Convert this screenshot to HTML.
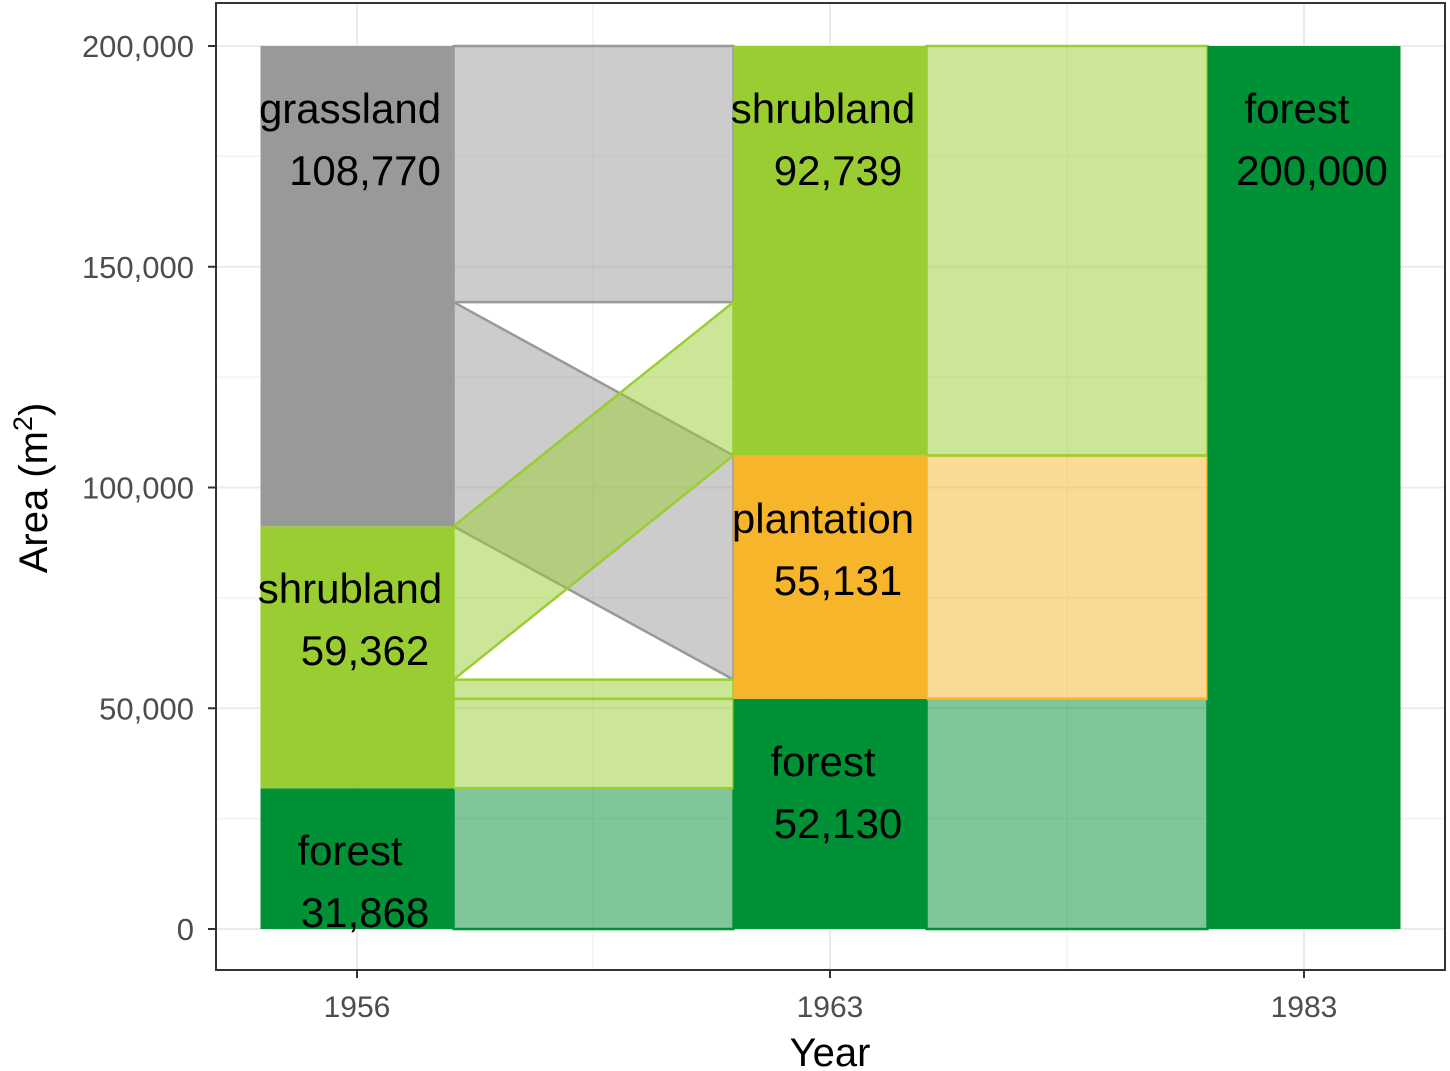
<!DOCTYPE html>
<html><head><meta charset="utf-8"><style>
html,body{margin:0;padding:0;background:#fff;}
svg{display:block;font-family:"Liberation Sans",Arial,sans-serif;}
</style></head><body>
<svg id="chart" width="1450" height="1071" viewBox="0 0 1450 1071"></svg>
<script>
const years = ['1956','1963','1983'];
const yTicks = [0,50000,100000,150000,200000];
const yTickLabels = ['0','50,000','100,000','150,000','200,000'];
// strata per year, bottom to top
const strata1956 = [['forest',31868],['shrubland',59362],['grassland',108770]];
const strata1963 = [['forest',52130],['plantation',55131],['shrubland',92739]];
const strata1983 = [['forest',200000]];
// flows 1956->1963 : [from, to, value], stacked in order
const flowFrom = ['forest','shrubland','shrubland','shrubland','grassland','grassland'];
const flowTo = ['forest','forest','plantation','shrubland','plantation','shrubland'];
const flowVal = [31868,20262,4361,34739,50770,58000];
const labelBase = [[865,603,123],[776,533,123],[123]];

const colors={forest:'#009036',shrubland:'#9acd32',grassland:'#999999',plantation:'#f7b52c'};
const svg=document.getElementById('chart');
const NS='http://www.w3.org/2000/svg';
function mk(t,a,p){const e=document.createElementNS(NS,t);for(const k in a)e.setAttribute(k,a[k]);(p||svg).appendChild(e);return e;}
const L=216,R=1445,T=3,B=970;
const y=v=>929-v*883/200000;
const xc=[357,830,1304], bw=193;

const frame=mk('rect',{x:L,y:T,width:R-L,height:B-T,fill:'#fff',stroke:'none'});

[25000,75000,125000,175000].forEach(v=>{const g=mk('line',{x1:L,x2:R,y1:y(v),y2:y(v),stroke:'#f2f2f2','stroke-width':1.5});});
[593,1067].forEach(xx=>{const g=mk('line',{x1:xx,x2:xx,y1:T,y2:B,stroke:'#f2f2f2','stroke-width':1.5});});
yTicks.forEach(v=>{const g=mk('line',{x1:L,x2:R,y1:y(v),y2:y(v),stroke:'#ebebeb','stroke-width':2});});
xc.forEach(xx=>{const g=mk('line',{x1:xx,x2:xx,y1:T,y2:B,stroke:'#ebebeb','stroke-width':2});});

function cum(strata){let c=0;const m={};strata.forEach(s=>{m[s[0]]=[c,c+s[1]];c+=s[1];});return m;}
const c56=cum(strata1956),c63=cum(strata1963);
const offFrom={},offTo={};
for(const k in c56)offFrom[k]=c56[k][0];
for(const k in c63)offTo[k]=c63[k][0];
const x1=xc[0]+bw/2,x2=xc[1]-bw/2;
const polys=[];
flowVal.forEach((v,i)=>{
  const f=flowFrom[i],t=flowTo[i];
  const a0=offFrom[f],a1=a0+v,b0=offTo[t],b1=b0+v;
  offFrom[f]=a1;offTo[t]=b1;
  polys.push({f,t,pts:`${x1},${y(a0)} ${x2},${y(b0)} ${x2},${y(b1)} ${x1},${y(a1)}`});
});
// draw grassland flows first so shrubland flows lie on top
polys.sort((a,b)=>(a.f==='grassland'?0:1)-(b.f==='grassland'?0:1)).forEach(o=>{
  const p=mk('polygon',{points:o.pts,fill:colors[o.f],'fill-opacity':0.5,stroke:colors[o.f],'stroke-width':2.5});
  
});
const x3=xc[1]+bw/2,x4=xc[2]-bw/2;
strata1963.forEach(s=>{const [a0,a1]=c63[s[0]];
  const p=mk('polygon',{points:`${x3},${y(a0)} ${x4},${y(a0)} ${x4},${y(a1)} ${x3},${y(a1)}`,fill:colors[s[0]],'fill-opacity':0.5,stroke:colors[s[0]],'stroke-width':2.5});
  
});
[strata1956,strata1963,strata1983].forEach((st,j)=>{
  let c=0;
  st.forEach((s,i)=>{
    const r=mk('rect',{x:xc[j]-bw/2,y:y(c+s[1]),width:bw,height:y(c)-y(c+s[1]),fill:colors[s[0]]});
    
    c+=s[1];
    const tb=labelBase[j][i];
    const t1=mk('text',{x:xc[j]-7,y:tb,'font-size':42,'text-anchor':'middle',fill:'#000'});t1.textContent=s[0];
    
    const t2=mk('text',{x:xc[j]+8,y:tb+62,'font-size':42,'text-anchor':'middle',fill:'#000'});t2.textContent=s[1].toLocaleString('en-US');
    
  });
});
const bd=mk('rect',{x:L,y:T,width:R-L,height:B-T,fill:'none',stroke:'#333','stroke-width':2});

yTicks.forEach((v,i)=>{
  const tk=mk('line',{x1:L-8,x2:L,y1:y(v),y2:y(v),stroke:'#333','stroke-width':2});
  const t=mk('text',{x:L-22,y:y(v)+11,'font-size':31,'text-anchor':'end',fill:'#4d4d4d'});t.textContent=yTickLabels[i];
  
});
years.forEach((yr,i)=>{
  const tk=mk('line',{x1:xc[i],x2:xc[i],y1:B,y2:B+8,stroke:'#333','stroke-width':2});
  const t=mk('text',{x:xc[i],y:1017,'font-size':30,'text-anchor':'middle',fill:'#4d4d4d'});t.textContent=yr;
  
});
const xt=mk('text',{x:830,y:1066,'font-size':40,'text-anchor':'middle',fill:'#000'});xt.textContent='Year';

const yt=mk('text',{x:0,y:0,'font-size':40,'text-anchor':'middle',fill:'#000',transform:'translate(47,488) rotate(-90)'});

yt.innerHTML='Area (m<tspan dy="-15" font-size="27">2</tspan><tspan dy="15">)</tspan>';
</script>
</body></html>
